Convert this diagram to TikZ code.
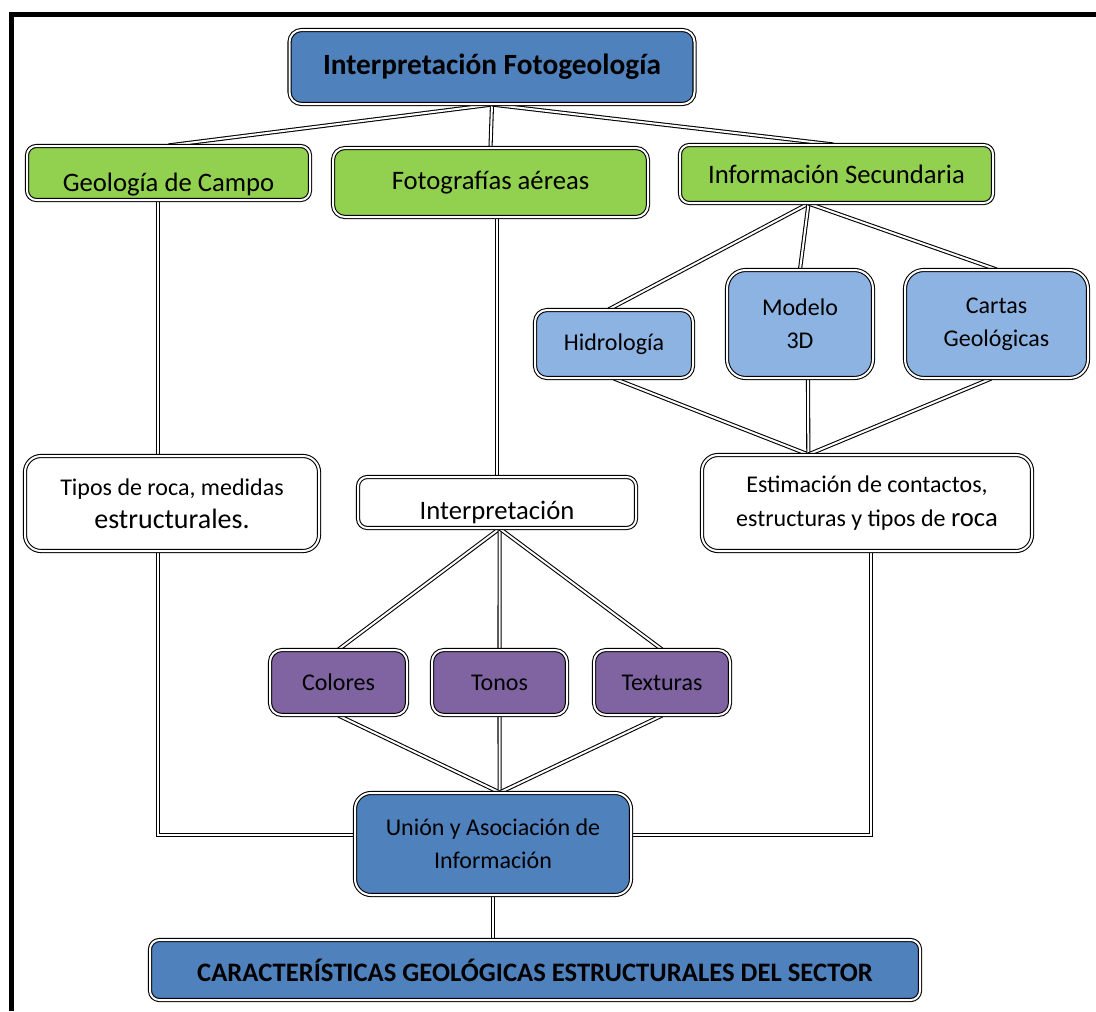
\documentclass[tikz,border=0pt]{standalone}
\usepackage{fontspec}
\setmainfont{Carlito}
\usetikzlibrary{backgrounds}
\definecolor{azul}{HTML}{4F81BD}
\definecolor{verde}{HTML}{92D050}
\definecolor{celeste}{HTML}{8DB3E2}
\definecolor{morado}{HTML}{8064A2}

\begin{document}
\begin{tikzpicture}[x=0.75pt,y=-0.75pt,
    caja/.style={draw=black,double=white,double distance=1.5pt,line width=0.8pt,
        rounded corners=9pt,align=center,inner sep=0pt,text=black},
    linea/.style={draw=black,double=white,double distance=1.5pt,line width=0.8pt},
    texto/.style={font=\fontsize{18}{25}\selectfont},
    grande/.style={font=\fontsize{20}{24}\selectfont}]
    \useasboundingbox (0,0) rectangle (1096,1011);
    \draw[line width=3.75pt] (11.5,1011) -- (11.5,14.5) -- (1096,14.5);

    \node[caja,fill=azul,minimum width=303.75pt,minimum height=55.5pt,
        font=\fontsize{22}{26}\selectfont\bfseries] (titulo) at (492,67) {Interpretación Fotogeología};

    \node[caja,grande,fill=verde,minimum width=212.25pt,minimum height=40.5pt,rounded corners=7pt,
        text height=28pt,text depth=0pt] (campo) at (168.5,173) {Geología de Campo};
    \node[caja,grande,fill=verde,minimum width=236.25pt,minimum height=51.75pt] (fotos) at (490.5,182.5) {Fotografías aéreas};
    \node[caja,grande,fill=verde,minimum width=234.75pt,minimum height=43.5pt,rounded corners=7pt] (secund) at (836.5,174) {Información Secundaria};

    \node[caja,texto,fill=celeste,minimum width=118.5pt,minimum height=51pt] (hidro) at (614,344) {Hidrología};
    \node[caja,texto,fill=celeste,minimum width=109.5pt,minimum height=81pt,rounded corners=14pt] (modelo) at (800,324) {Modelo\\3D};
    \node[caja,texto,fill=celeste,minimum width=137.25pt,minimum height=81pt,rounded corners=14pt] (cartas) at (996.5,324) {Cartas\\Geológicas};

    \node[caja,texto,fill=white,minimum width=220.5pt,minimum height=71.25pt,rounded corners=12pt] (tipos) at (172,503.5)
        {Tipos de roca, medidas\\{\fontsize{21}{25}\selectfont estructurales.}};
    \node[caja,grande,fill=white,minimum width=208.5pt,minimum height=38.25pt,rounded corners=7pt,
        text height=25pt,text depth=0pt] (interp) at (497,502.5) {Interpretación};
    \node[caja,texto,fill=white,minimum width=247.5pt,minimum height=72pt,rounded corners=12pt] (estima) at (867,503)
        {Estimación de contactos,\\estructuras y tipos de {\fontsize{20}{25}\selectfont roca}};

    \node[caja,texto,fill=morado,minimum width=102.75pt,minimum height=48.75pt] (colores) at (338.5,682.5) {Colores};
    \node[caja,texto,fill=morado,minimum width=101.25pt,minimum height=48.75pt] (tonos) at (499.5,682.5) {Tonos};
    \node[caja,texto,fill=morado,minimum width=102pt,minimum height=48.75pt] (texturas) at (662,682.5) {Texturas};

    \node[caja,texto,fill=azul,minimum width=207pt,minimum height=76.5pt,rounded corners=12pt] (union) at (493,844)
        {Unión y Asociación de\\Información};
    \node[caja,fill=azul,minimum width=577.5pt,minimum height=45pt,rounded corners=7pt,
        font=\fontsize{20}{24}\selectfont\bfseries] (sector) at (535,970) {CARACTERÍSTICAS GEOLÓGICAS ESTRUCTURALES DEL SECTOR};

    \begin{scope}[on background layer]
        \draw[linea] (titulo.south) -- (campo.north);
        \draw[linea] (titulo.south) -- (fotos.north);
        \draw[linea] (titulo.south) -- ([xshift=-2.5pt]secund.north);

        \draw[linea] ([xshift=-10.5pt]tipos.north) -- ([xshift=-10.5pt]tipos.north |- campo.south);
        \draw[linea] (interp.north) -- (interp.north |- fotos.south);

        \draw[linea] ([xshift=-21pt]secund.south) -- ([xshift=-4pt]hidro.north);
        \draw[linea] ([xshift=-21pt]secund.south) -- (modelo.north);
        \draw[linea] ([xshift=-21pt]secund.south) -- (cartas.north);

        \draw[linea] (hidro.south) -- ([xshift=-44pt]estima.north);
        \draw[linea] ([xshift=6pt]modelo.south) -- ([xshift=-44pt]estima.north);
        \draw[linea] ([xshift=-4pt]cartas.south) -- ([xshift=-44pt]estima.north);

        \draw[linea] ([xshift=2pt]interp.south) -- (colores.north);
        \draw[linea] ([xshift=2pt]interp.south) -- (tonos.north);
        \draw[linea] ([xshift=2pt]interp.south) -- (texturas.north);

        \draw[linea] (colores.south) -- ([xshift=5pt]union.north);
        \draw[linea] (tonos.south) -- ([xshift=5pt]union.north);
        \draw[linea] (texturas.south) -- ([xshift=5pt]union.north);

        \draw[linea] ([xshift=-10.5pt]tipos.south) |- ([yshift=6.75pt]union.west);
        \draw[linea] ([xshift=3pt]estima.south) |- ([yshift=6.75pt]union.east);
        \draw[linea] (union.south) -- (sector.north -| union.south);
    \end{scope}
\end{tikzpicture}
\end{document}
